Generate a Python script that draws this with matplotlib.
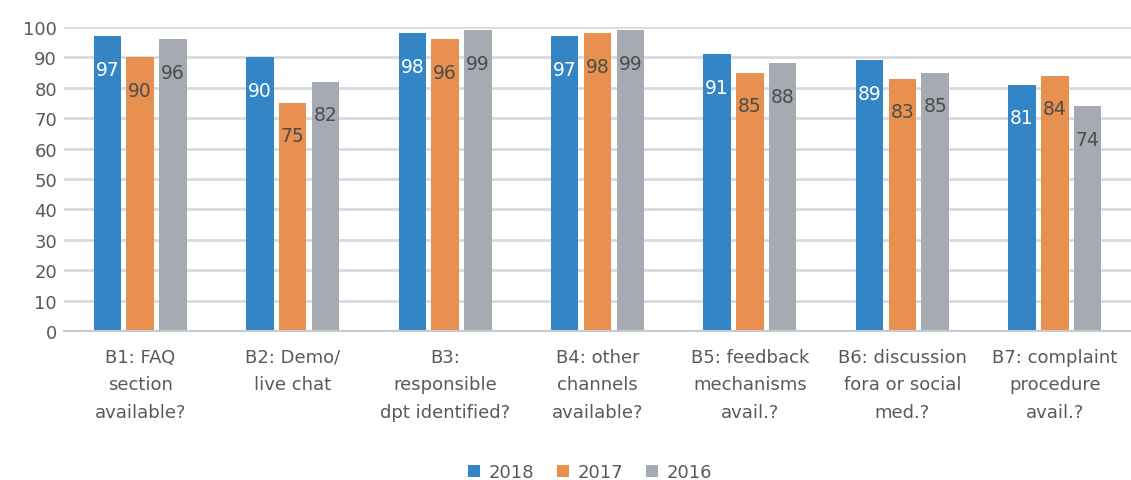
import matplotlib
matplotlib.use("Agg")
import matplotlib.pyplot as plt
import numpy as np

categories = ["B1: FAQ\nsection\navailable?", "B2: Demo/\nlive chat", "B3:\nresponsible\ndpt identified?",
              "B4: other\nchannels\navailable?", "B5: feedback\nmechanisms\navail.?",
              "B6: discussion\nfora or social\nmed.?", "B7: complaint\nprocedure\navail.?"]
series_names = ["2018", "2017", "2016"]
v2018 = [97, 90, 98, 97, 91, 89, 81]
v2017 = [90, 75, 96, 98, 85, 83, 84]
v2016 = [96, 82, 99, 99, 88, 85, 74]
values = [v2018, v2017, v2016]
colors = ["#3385c6", "#e8904f", "#a6abb3"]
label_colors = ["white", "#4d4d4d", "#4d4d4d"]
yticks = list(range(0, 101, 10))

plt.rcParams['font.family'] = ['DejaVu Sans']
W, H = 1131, 481
fig = plt.figure(figsize=(W/100, H/100), dpi=100)
ax = fig.add_axes([64/W, 1-332/H, (1131-64)/W, (332-28)/H])

x = np.arange(len(categories))
bw = 0.18
step = 0.215
for i, (vals, c, lc, name) in enumerate(zip(values, colors, label_colors, series_names)):
    xs = x + (i-1)*step
    ax.bar(xs, vals, width=bw, color=c, label=name, zorder=3)
    for xi, v in zip(xs, vals):
        ax.annotate(str(v), (xi, v), xytext=(0, -33), textcoords='offset pixels',
                    ha='center', va='center', fontsize=13.5, color=lc, zorder=4)

ax.set_xlim(-0.5, len(categories)-0.5)
ax.set_ylim(0, 100)
ax.set_yticks(yticks)
ax.yaxis.grid(True, color="#d9dae1", linewidth=2, zorder=0)
ax.set_axisbelow(True)
for s in ["top", "right", "left"]:
    ax.spines[s].set_visible(False)
ax.spines["bottom"].set_color("#c8cad2")
ax.spines["bottom"].set_linewidth(1.5)
ax.spines["bottom"].set_zorder(5)
ax.tick_params(axis='y', length=0, pad=5, labelsize=13, labelcolor="#595959")
ax.tick_params(axis='x', length=0, pad=12, labelsize=13, labelcolor="#595959")
ax.set_xticks(x)
ax.set_xticklabels(categories, linespacing=1.7)

fig.legend(loc='center', bbox_to_anchor=(590/W, 1-473/H), ncol=3, frameon=False,
           fontsize=13, labelcolor="#595959", handlelength=0.67, handleheight=0.67,
           handletextpad=0.45, columnspacing=1.28)

fig.savefig("out.png", dpi=100)
